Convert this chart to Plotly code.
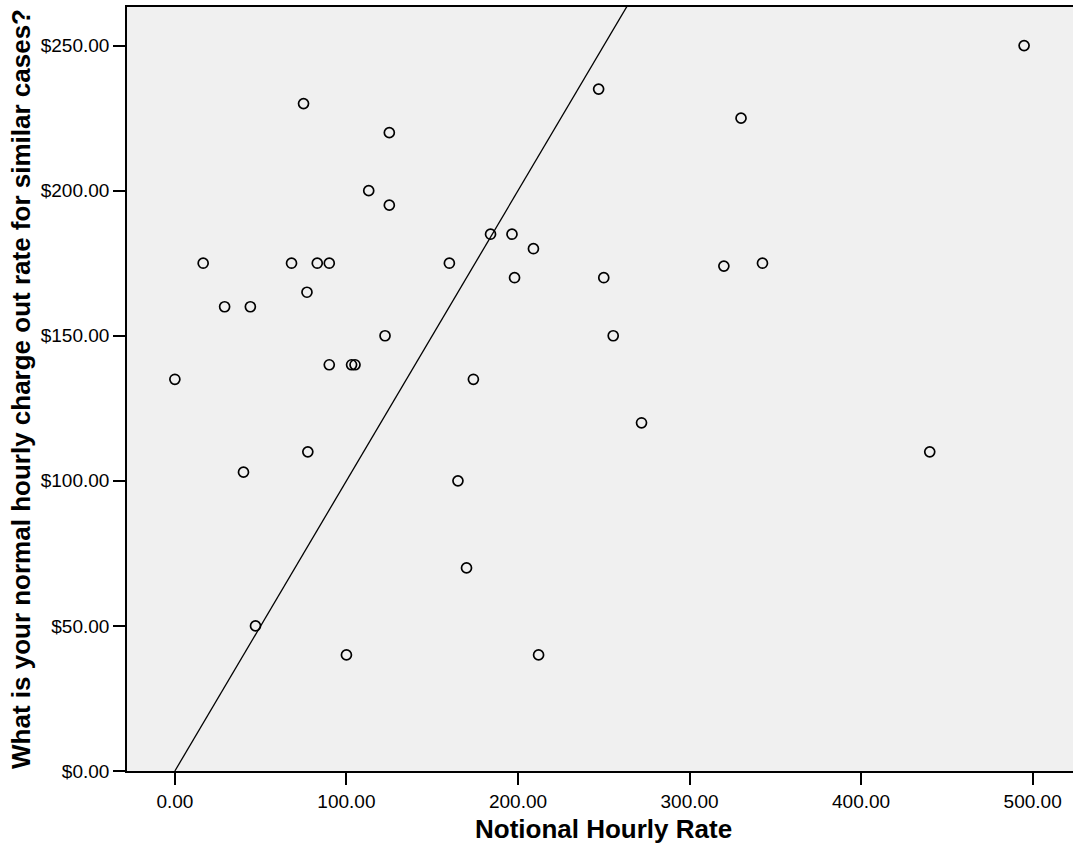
import plotly.graph_objects as go

# Notional hourly rate (x) vs normal hourly charge out rate (y)
notional_rate = [0, 16.5, 29, 44, 40, 47, 68, 75, 77, 77.5, 83, 90, 90, 100, 103, 105,
                 113, 122.5, 125, 125, 160, 165, 170, 174, 184, 196.5, 198, 209, 212,
                 247, 250, 255.5, 272, 320, 330, 342.5, 440, 495]
charge_rate = [135, 175, 160, 160, 103, 50, 175, 230, 165, 110, 175, 175, 140, 40, 140, 140,
               200, 150, 220, 195, 175, 100, 70, 135, 185, 185, 170, 180, 40,
               235, 170, 150, 120, 174, 225, 175, 110, 250]

# y = x reference line end values
reference_line = [0, 300]

x_ticks = [0, 100, 200, 300, 400, 500]
y_ticks = [0, 50, 100, 150, 200, 250]
x_tick_labels = ["0.00", "100.00", "200.00", "300.00", "400.00", "500.00"]
y_tick_labels = ["&#36;0.00", "&#36;50.00", "&#36;100.00", "&#36;150.00", "&#36;200.00", "&#36;250.00"]

FONT = "Liberation Sans, Arial, sans-serif"

fig = go.Figure()
fig.add_trace(go.Scatter(
    x=reference_line, y=reference_line, mode="lines",
    line=dict(color="black", width=1.3), hoverinfo="skip", showlegend=False))
fig.add_trace(go.Scatter(
    x=notional_rate, y=charge_rate, mode="markers",
    marker=dict(symbol="circle-open", size=10, color="black", line=dict(width=1.7, color="black")),
    showlegend=False))

fig.update_layout(
    width=1073, height=848,
    margin=dict(l=127, r=0, t=7, b=77),
    paper_bgcolor="white", plot_bgcolor="#F0F0F0",
    font=dict(family=FONT, color="black"),
    xaxis=dict(range=[-27.9, 523.5], tickvals=x_ticks, ticktext=x_tick_labels,
               showgrid=False, zeroline=False, showline=True, linecolor="black", linewidth=1.6,
               mirror=True, ticks="outside", ticklen=12, tickwidth=1.8, tickcolor="black",
               tickfont=dict(size=19, family=FONT, color="black")),
    yaxis=dict(range=[0, 263.3], tickvals=y_ticks, ticktext=y_tick_labels,
               showgrid=False, zeroline=False, showline=True, linecolor="black", linewidth=1.6,
               ticks="outside", ticklen=12, tickwidth=1.8, tickcolor="black",
               tickfont=dict(size=19, family=FONT, color="black")),
    annotations=[
        dict(text="<b>Notional Hourly Rate</b>", xref="paper", yref="paper", x=0.5, y=0,
             xanchor="center", yanchor="middle", xshift=3, yshift=-58, showarrow=False,
             font=dict(size=26, family=FONT, color="black")),
        dict(text="<b>What is your normal hourly charge out rate for similar cases?</b>",
             xref="paper", yref="paper", x=0, y=0.5, xanchor="center", yanchor="middle",
             xshift=-106, textangle=-90, showarrow=False,
             font=dict(size=26, family=FONT, color="black")),
    ],
)

fig.write_html("out.html", config={"displayModeBar": False},
               post_script="document.body.style.margin='0';")
